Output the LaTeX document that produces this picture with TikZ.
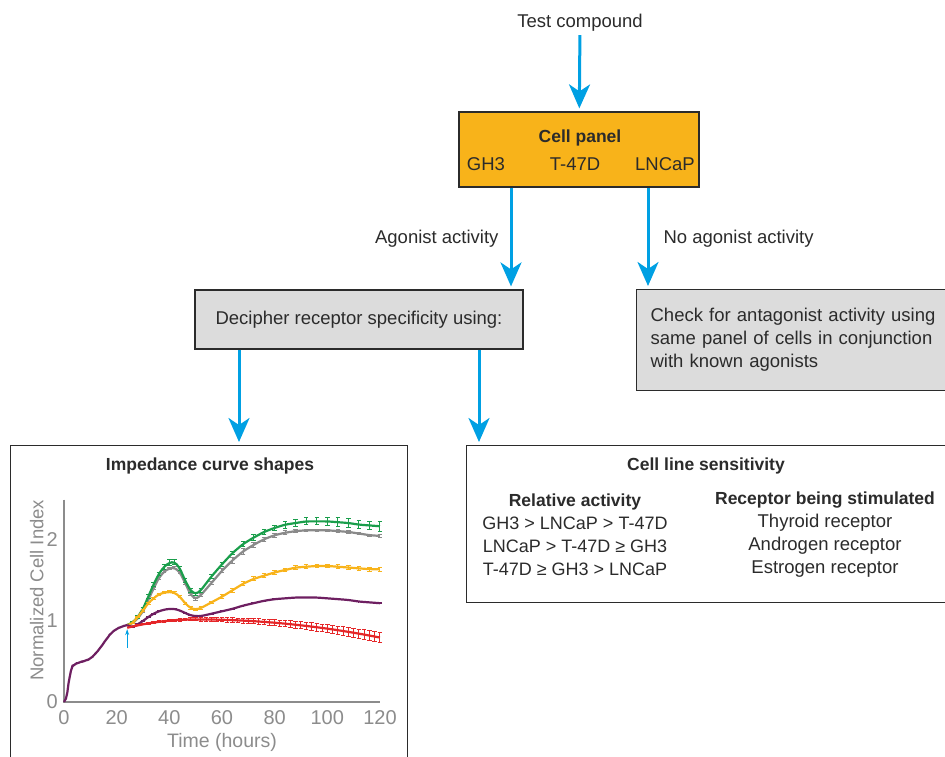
\documentclass[tikz,border=0pt]{standalone}
\usepackage{fontspec}
\setmainfont{Liberation Sans}
\usetikzlibrary{arrows.meta, positioning}

\definecolor{flowblue}{HTML}{00A0E3}
\definecolor{panelorange}{HTML}{F8B31A}
\definecolor{boxgray}{HTML}{DCDCDC}
\definecolor{inkgray}{HTML}{2B2B2B}
\definecolor{axisgray}{HTML}{8C8C8C}
\definecolor{curvegreen}{HTML}{1A9E4B}
\definecolor{curvegray}{HTML}{8A8A8A}
\definecolor{curveyellow}{HTML}{F8B31A}
\definecolor{curvepurple}{HTML}{6E1F61}
\definecolor{curvered}{HTML}{E52628}

\tikzset{
  flow/.style={flowblue, line width=3pt, -{Stealth[length=24pt, width=21pt, inset=7pt]}, shorten >=3pt},
  panelbox/.style={draw=inkgray, fill=panelorange, line width=1.2pt},
  greybox/.style={draw=inkgray, fill=boxgray, line width=1.2pt},
  whitebox/.style={draw=inkgray, fill=white, line width=1.2pt},
  heading/.style={font=\fontsize{17.5}{22}\selectfont\bfseries},
  flowlabel/.style={inner sep=0pt, text=inkgray},
  ticklabel/.style={axisgray, inner sep=0pt, font=\fontsize{20}{24}\selectfont},
  curve/.style={line width=2.2pt, line join=round, rounded corners=3pt},
  errbar/.style={line width=1pt, {Bar[width=4.5pt]}-{Bar[width=4.5pt]}}
}

% time / value / error
\newcommand\greendata{26/0.98/0.02, 28/1.05/0.02, 30/1.15/0.02, 32/1.30/0.03, 34/1.45/0.03, 36/1.58/0.03, 38/1.67/0.04, 40/1.72/0.04, 42/1.73/0.04, 44/1.65/0.03, 46/1.50/0.03, 48/1.38/0.03, 50/1.33/0.02, 52/1.38/0.03, 56/1.55/0.03, 60/1.70/0.03, 64/1.84/0.03, 68/1.95/0.04, 72/2.03/0.04, 76/2.10/0.04, 80/2.15/0.04, 84/2.19/0.05, 88/2.21/0.05, 92/2.23/0.05, 96/2.23/0.05, 100/2.23/0.06, 104/2.22/0.06, 108/2.21/0.06, 112/2.19/0.06, 116/2.18/0.06, 120/2.17/0.07}
\newcommand\graydata{26/0.97/0.01, 28/1.03/0.01, 30/1.12/0.02, 32/1.26/0.02, 34/1.40/0.02, 36/1.53/0.02, 38/1.61/0.02, 40/1.65/0.02, 42/1.66/0.02, 44/1.60/0.02, 46/1.47/0.02, 48/1.33/0.02, 50/1.27/0.02, 52/1.32/0.02, 56/1.47/0.03, 60/1.62/0.03, 64/1.75/0.04, 68/1.86/0.04, 72/1.94/0.04, 76/2.01/0.03, 80/2.06/0.03, 84/2.09/0.03, 88/2.11/0.02, 92/2.12/0.02, 96/2.12/0.02, 100/2.12/0.02, 104/2.11/0.02, 108/2.10/0.02, 112/2.08/0.02, 116/2.06/0.02, 120/2.05/0.02}
\newcommand\yellowdata{26/0.97/0.01, 28/1.05/0.01, 30/1.13/0.02, 32/1.22/0.02, 34/1.28/0.02, 36/1.33/0.02, 38/1.35/0.02, 40/1.36/0.02, 42/1.35/0.02, 44/1.30/0.02, 46/1.22/0.02, 48/1.16/0.02, 50/1.14/0.02, 52/1.16/0.02, 56/1.23/0.02, 60/1.30/0.03, 64/1.38/0.03, 68/1.46/0.03, 72/1.52/0.03, 76/1.56/0.03, 80/1.60/0.03, 84/1.63/0.03, 88/1.66/0.03, 92/1.67/0.03, 96/1.68/0.03, 100/1.68/0.03, 104/1.67/0.03, 108/1.66/0.03, 112/1.65/0.03, 116/1.64/0.03, 120/1.64/0.03}
\newcommand\purpledata{26/0.92/0.01, 28/0.96/0.01, 30/1.00/0.01, 32/1.05/0.01, 34/1.09/0.01, 36/1.12/0.01, 38/1.14/0.01, 40/1.15/0.01, 42/1.15/0.01, 44/1.13/0.01, 46/1.10/0.01, 48/1.07/0.01, 50/1.06/0.01, 52/1.06/0.01, 56/1.09/0.01, 60/1.12/0.01, 64/1.15/0.01, 68/1.19/0.01, 72/1.22/0.01, 76/1.25/0.01, 80/1.27/0.01, 84/1.28/0.01, 88/1.29/0.01, 92/1.29/0.01, 96/1.29/0.01, 100/1.28/0.01, 104/1.27/0.01, 108/1.26/0.01, 112/1.24/0.01, 116/1.23/0.01, 120/1.22/0.01}

\begin{document}
\begin{tikzpicture}[x=1pt, y=-1pt, font=\fontsize{18.5}{22.5}\selectfont, text=inkgray]
  \clip (0,0) rectangle (945,756);

  % flow chart
  \node (compound) at (580,23) {Test compound};

  \node[panelbox, minimum width=240pt, minimum height=75pt] (panel) at (579,149.5) {};
  \node[heading] (paneltitle) at (580,138) {Cell panel};
  \node (gh3) at (486,164) {GH3};
  \node (t47d) at (575,164) {T-47D};
  \node (lncap) at (665,164) {LNCaP};

  \node[greybox, minimum width=328pt, minimum height=59pt] (decipher) at (359,319.5) {Decipher receptor specificity using:};
  \node[greybox, anchor=north west, text width=295pt, inner xsep=14pt, minimum height=101pt, align=left,
        font=\fontsize{18.5}{23}\selectfont] (antagonist) at (636,289)
    {Check for antagonist activity using\\ same panel of cells in conjunction\\ with known agonists};

  \node[whitebox, anchor=north west, minimum width=397pt, minimum height=330pt] (impedance) at (10,445) {};
  \node[heading] (imptitle) at (210,466) {Impedance curve shapes};

  \node[whitebox, anchor=north west, minimum width=490pt, minimum height=157pt] (sensitivity) at (466,445) {};
  \node[heading] (senstitle) at (706,466) {Cell line sensitivity};
  \node[align=center, font=\fontsize{18}{23}\selectfont] (relative) at (575,534.5)
    {{\fontsize{17.5}{23}\selectfont\bfseries Relative activity}\\ GH3 > LNCaP > T-47D\\ LNCaP > T-47D ≥ GH3\\ T-47D ≥ GH3 > LNCaP};
  \node[align=center, font=\fontsize{18.5}{23}\selectfont] (receptor) at (825,534.5)
    {{\fontsize{17.5}{23}\selectfont\bfseries Receptor being stimulated}\\ Thyroid receptor\\ Androgen receptor\\ Estrogen receptor};

  \draw[flow] (compound) -- (panel);
  \draw[flow] (511,0 |- panel.south) -- node[flowlabel, left=11pt] (agonist) {Agonist activity} (511,0 |- decipher.north);
  \draw[flow] (648,0 |- panel.south) -- node[flowlabel, right=14pt] (noagonist) {No agonist activity} (648,0 |- antagonist.north);
  \draw[flow] (239,0 |- decipher.south) -- (239,0 |- impedance.north);
  \draw[flow] (479,0 |- decipher.south) -- (479,0 |- sensitivity.north);

  % impedance plot
  \begin{scope}[shift={(64,702)}, xscale=2.633, yscale=-81]
    \draw[axisgray, line width=1.2pt] (0,2.5) -- (0,0) -- (120,0);
    \foreach \v in {0,1,2}
      \node[ticklabel, left=6pt] (ytick\v) at (0,\v) {\v};
    \foreach \t in {0,20,...,120}
      \node[ticklabel, below=8pt] (xtick\t) at (\t,0) {\t};
    \node[ticklabel, font=\fontsize{19.5}{24}\selectfont] (xtitle) at (60,-0.5) {Time (hours)};
    \node[ticklabel, rotate=90, font=\fontsize{18.5}{22}\selectfont] (ytitle) at (-10.3,1.38) {Normalized Cell Index};

    \draw[curve, curvegray] (24,0.95) \foreach \t/\v/\e in \graydata {-- (\t,\v)};
    \foreach \t/\v/\e in \graydata {\draw[errbar, curvegray] (\t,\v-\e) -- (\t,\v+\e);}
    \draw[curve, curvegreen] (24,0.95) \foreach \t/\v/\e in \greendata {-- (\t,\v)};
    \foreach \t/\v/\e in \greendata {\draw[errbar, curvegreen] (\t,\v-\e) -- (\t,\v+\e);}
    \draw[curve, curveyellow] (24,0.95) \foreach \t/\v/\e in \yellowdata {-- (\t,\v)};
    \foreach \t/\v/\e in \yellowdata {\draw[errbar, curveyellow] (\t,\v-\e) -- (\t,\v+\e);}
    \draw[curve, curvepurple] (24,0.95) \foreach \t/\v/\e in \purpledata {-- (\t,\v)};
    \foreach \t/\v/\e in \purpledata {\draw[errbar, curvepurple] (\t,\v-\e) -- (\t,\v+\e);}
    \draw[curve, curvered, domain=24:120, samples=49]
      plot (\x, {(\x<50)*(1.02-0.000148*(50-\x)^2) + (\x>=50)*(1.02-0.0000388*(\x-50)^2)});
    \foreach \t in {26,28,...,120} {
      \pgfmathsetmacro\v{(\t<50)*(1.02-0.000148*(50-\t)^2) + (\t>=50)*(1.02-0.0000388*(\t-50)^2)}
      \pgfmathsetmacro\e{0.01+0.0006*(\t-24)}
      \draw[errbar, curvered] (\t,\v-\e) -- (\t,\v+\e);
    }
    % growth before treatment
    \draw[curve, curvepurple] plot[smooth] coordinates {(0,0) (1,0.08) (2,0.28) (3,0.42) (4,0.46) (6,0.49) (8,0.51) (10,0.54) (12,0.6) (14,0.68) (16,0.77) (18,0.85) (20,0.9) (22,0.93) (24,0.95)};

    \coordinate (dosetail) at (24,0.67);
    \coordinate (dosetip) at (24,0.9);
    \draw[flowblue, line width=0.8pt, -{Stealth[length=6pt, width=4pt]}] (dosetail) -- (dosetip);
  \end{scope}
\end{tikzpicture}
\end{document}
